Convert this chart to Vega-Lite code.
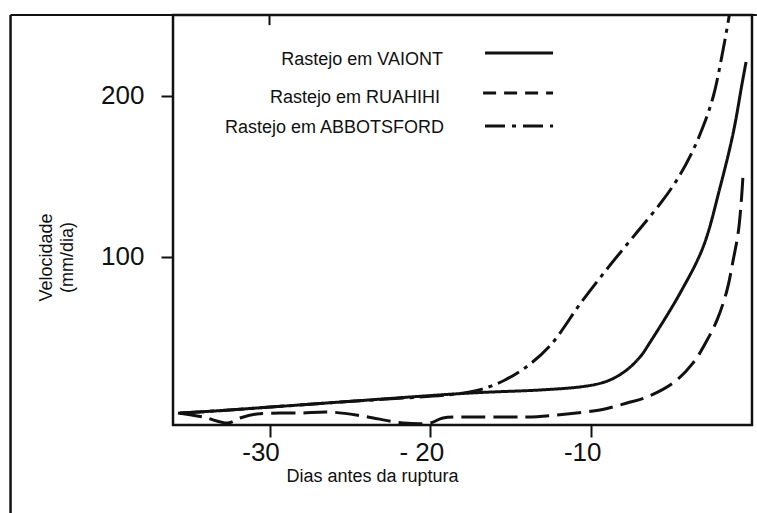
{
  "$schema": "https://vega.github.io/schema/vega-lite/v6.json",
  "width": 579,
  "height": 410,
  "autosize": {"type": "none"},
  "padding": {"left": 173, "top": 15, "right": 5, "bottom": 88},
  "background": "white",
  "config": {
    "view": {"stroke": "#111111", "strokeWidth": 2.5},
    "font": "Liberation Sans",
    "axis": {
      "domain": false,
      "grid": false,
      "tickColor": "#111111",
      "tickWidth": 2,
      "labelColor": "#111111",
      "titleColor": "#111111",
      "labelFont": "Liberation Sans",
      "titleFont": "Liberation Sans",
      "titleFontWeight": "normal"
    }
  },
  "datasets": {
    "curvas": [
      {"serie": "VAIONT", "dias": -35.56, "velocidade": 3.1},
      {"serie": "VAIONT", "dias": -33.51, "velocidade": 4.3},
      {"serie": "VAIONT", "dias": -25.61, "velocidade": 9.9},
      {"serie": "VAIONT", "dias": -17.53, "velocidade": 15.5},
      {"serie": "VAIONT", "dias": -13.18, "velocidade": 17.4},
      {"serie": "VAIONT", "dias": -10.69, "velocidade": 19.3},
      {"serie": "VAIONT", "dias": -9.45, "velocidade": 21.5},
      {"serie": "VAIONT", "dias": -8.64, "velocidade": 24.5},
      {"serie": "VAIONT", "dias": -7.77, "velocidade": 30.0},
      {"serie": "VAIONT", "dias": -6.96, "velocidade": 37.9},
      {"serie": "VAIONT", "dias": -6.34, "velocidade": 47.0},
      {"serie": "VAIONT", "dias": -4.47, "velocidade": 77.6},
      {"serie": "VAIONT", "dias": -3.04, "velocidade": 106.2},
      {"serie": "VAIONT", "dias": -1.98, "velocidade": 143.5},
      {"serie": "VAIONT", "dias": -1.17, "velocidade": 177.0},
      {"serie": "VAIONT", "dias": -0.61, "velocidade": 208.1},
      {"serie": "VAIONT", "dias": -0.37, "velocidade": 221.1},
      {"serie": "RUAHIHI", "dias": -35.69, "velocidade": 3.1},
      {"serie": "RUAHIHI", "dias": -34.13, "velocidade": 0.6},
      {"serie": "RUAHIHI", "dias": -32.58, "velocidade": -3.1},
      {"serie": "RUAHIHI", "dias": -31.83, "velocidade": 0.0},
      {"serie": "RUAHIHI", "dias": -30.78, "velocidade": 2.5},
      {"serie": "RUAHIHI", "dias": -28.10, "velocidade": 3.1},
      {"serie": "RUAHIHI", "dias": -26.24, "velocidade": 3.7},
      {"serie": "RUAHIHI", "dias": -24.18, "velocidade": 1.2},
      {"serie": "RUAHIHI", "dias": -21.70, "velocidade": -3.1},
      {"serie": "RUAHIHI", "dias": -20.02, "velocidade": -3.1},
      {"serie": "RUAHIHI", "dias": -19.21, "velocidade": 0.0},
      {"serie": "RUAHIHI", "dias": -17.34, "velocidade": 0.6},
      {"serie": "RUAHIHI", "dias": -15.04, "velocidade": 0.6},
      {"serie": "RUAHIHI", "dias": -13.36, "velocidade": 0.8},
      {"serie": "RUAHIHI", "dias": -11.50, "velocidade": 2.5},
      {"serie": "RUAHIHI", "dias": -9.45, "velocidade": 5.0},
      {"serie": "RUAHIHI", "dias": -7.77, "velocidade": 9.3},
      {"serie": "RUAHIHI", "dias": -6.53, "velocidade": 13.0},
      {"serie": "RUAHIHI", "dias": -4.91, "velocidade": 21.7},
      {"serie": "RUAHIHI", "dias": -3.66, "velocidade": 34.2},
      {"serie": "RUAHIHI", "dias": -2.79, "velocidade": 48.4},
      {"serie": "RUAHIHI", "dias": -2.17, "velocidade": 60.9},
      {"serie": "RUAHIHI", "dias": -1.55, "velocidade": 79.5},
      {"serie": "RUAHIHI", "dias": -1.17, "velocidade": 98.1},
      {"serie": "RUAHIHI", "dias": -0.86, "velocidade": 114.9},
      {"serie": "RUAHIHI", "dias": -0.66, "velocidade": 135.4},
      {"serie": "RUAHIHI", "dias": -0.55, "velocidade": 152.2},
      {"serie": "ABBOTSFORD", "dias": -35.56, "velocidade": 3.1},
      {"serie": "ABBOTSFORD", "dias": -33.51, "velocidade": 4.3},
      {"serie": "ABBOTSFORD", "dias": -25.61, "velocidade": 9.9},
      {"serie": "ABBOTSFORD", "dias": -18.15, "velocidade": 15.2},
      {"serie": "ABBOTSFORD", "dias": -16.91, "velocidade": 17.6},
      {"serie": "ABBOTSFORD", "dias": -15.36, "velocidade": 23.6},
      {"serie": "ABBOTSFORD", "dias": -13.80, "velocidade": 33.5},
      {"serie": "ABBOTSFORD", "dias": -12.50, "velocidade": 45.5},
      {"serie": "ABBOTSFORD", "dias": -10.57, "velocidade": 72.5},
      {"serie": "ABBOTSFORD", "dias": -8.82, "velocidade": 95.0},
      {"serie": "ABBOTSFORD", "dias": -7.14, "velocidade": 115.5},
      {"serie": "ABBOTSFORD", "dias": -5.60, "velocidade": 134.5},
      {"serie": "ABBOTSFORD", "dias": -4.60, "velocidade": 149.0},
      {"serie": "ABBOTSFORD", "dias": -3.73, "velocidade": 165.0},
      {"serie": "ABBOTSFORD", "dias": -3.04, "velocidade": 181.0},
      {"serie": "ABBOTSFORD", "dias": -2.40, "velocidade": 200.0},
      {"serie": "ABBOTSFORD", "dias": -1.80, "velocidade": 228.6},
      {"serie": "ABBOTSFORD", "dias": -1.30, "velocidade": 256.5}
    ]
  },
  "layer": [
    {
      "data": {"name": "curvas"},
      "mark": {"type": "line", "interpolate": "catmull-rom", "clip": true, "color": "#111111", "strokeWidth": 3},
      "encoding": {
        "x": {
          "field": "dias",
          "type": "quantitative",
          "scale": {"domain": [-36, 0], "nice": false, "zero": false},
          "axis": {
            "values": [-30, -20, -10],
            "labelExpr": "datum.value == -20 ? '- 20' : '-' + abs(datum.value)",
            "labelFontSize": 26,
            "tickSize": 12,
            "labelPadding": 2,
            "labelOffset": -9,
            "title": "Dias antes da ruptura",
            "titleFontSize": 18,
            "titleX": 199,
            "titleY": 56,
            "titleAlign": "center",
            "titleBaseline": "alphabetic"
          }
        },
        "y": {
          "field": "velocidade",
          "type": "quantitative",
          "scale": {"domain": [-4.35, 250.3], "nice": false, "zero": false},
          "axis": {
            "values": [100, 200],
            "labelFontSize": 26,
            "tickSize": 12,
            "labelPadding": 17,
            "title": ["Velocidade", "(mm/dia)"],
            "titleFontSize": 18,
            "titleLineHeight": 21,
            "titleAngle": 270,
            "titleX": -122,
            "titleY": 242,
            "titleAlign": "center",
            "titleBaseline": "alphabetic"
          }
        },
        "strokeDash": {
          "field": "serie",
          "type": "nominal",
          "scale": {"domain": ["VAIONT", "RUAHIHI", "ABBOTSFORD"], "range": [[1, 0], [24, 8], [24, 6, 4, 6]]},
          "legend": null
        }
      }
    },
    {
      "data": {"values": [{"label": "Rastejo em VAIONT"}]},
      "mark": {"type": "text", "align": "right", "baseline": "alphabetic", "fontSize": 18, "font": "Liberation Sans", "color": "#111111"},
      "encoding": {"text": {"field": "label"}, "x": {"datum": -19.21}, "y": {"datum": 219.3}}
    },
    {
      "data": {"values": [{"label": "Rastejo em RUAHIHI"}]},
      "mark": {"type": "text", "align": "right", "baseline": "alphabetic", "fontSize": 18, "font": "Liberation Sans", "color": "#111111"},
      "encoding": {"text": {"field": "label"}, "x": {"datum": -19.4}, "y": {"datum": 195.7}}
    },
    {
      "data": {"values": [{"label": "Rastejo em  ABBOTSFORD"}]},
      "mark": {"type": "text", "align": "right", "baseline": "alphabetic", "fontSize": 18, "font": "Liberation Sans", "color": "#111111"},
      "encoding": {"text": {"field": "label"}, "x": {"datum": -19.15}, "y": {"datum": 177.0}}
    },
    {
      "data": {"values": [{"serie": "VAIONT"}]},
      "mark": {"type": "rule", "strokeWidth": 3, "color": "#111111"},
      "encoding": {"x": {"datum": -16.6}, "x2": {"datum": -12.37}, "y": {"datum": 226.7}}
    },
    {
      "data": {"values": [{"serie": "RUAHIHI"}]},
      "mark": {"type": "rule", "strokeWidth": 3, "color": "#111111", "strokeDash": [13, 8]},
      "encoding": {"x": {"datum": -16.72}, "x2": {"datum": -12.37}, "y": {"datum": 201.9}}
    },
    {
      "data": {"values": [{"serie": "ABBOTSFORD"}]},
      "mark": {"type": "rule", "strokeWidth": 3, "color": "#111111", "strokeDash": [20, 7, 4, 7]},
      "encoding": {"x": {"datum": -16.6}, "x2": {"datum": -12.37}, "y": {"datum": 181.4}}
    },
    {
      "data": {"values": [{"moldura": "esquerda"}]},
      "mark": {"type": "rule", "strokeWidth": 2.5, "color": "#111111"},
      "encoding": {"x": {"datum": -46.1}, "y": {"datum": 250.3}, "y2": {"datum": -59}}
    },
    {
      "data": {"values": [{"moldura": "topo"}]},
      "mark": {"type": "rule", "strokeWidth": 2, "color": "#111111"},
      "encoding": {"x": {"datum": -46.1}, "x2": {"datum": 0.3}, "y": {"datum": 250.3}}
    },
    {
      "data": {"values": [{"moldura": "marca"}]},
      "mark": {"type": "rule", "strokeWidth": 2, "color": "#111111"},
      "encoding": {"x": {"datum": -30}, "y": {"datum": 250.3}, "y2": {"datum": 244}}
    }
  ]
}
